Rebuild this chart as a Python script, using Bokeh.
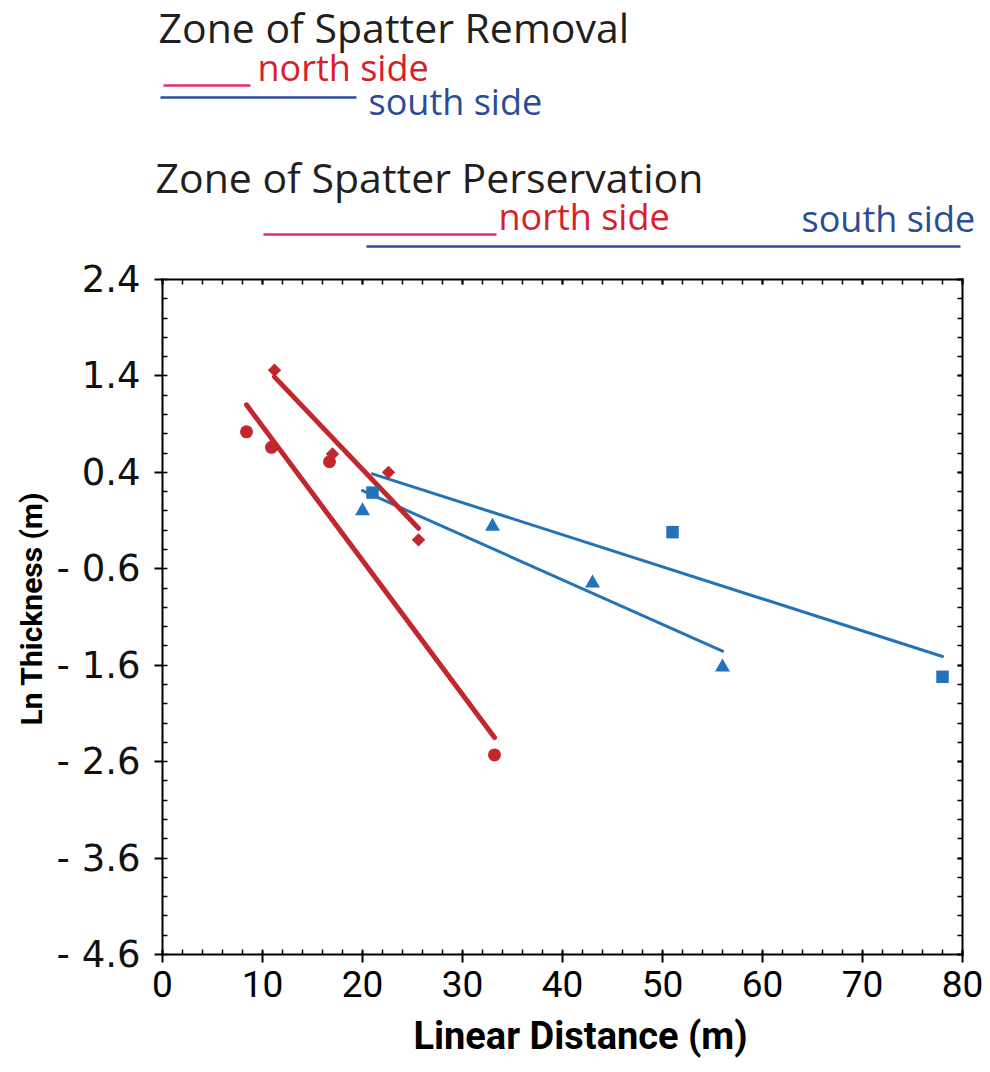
import math
from bokeh.plotting import figure
from bokeh.models import Range1d, LinearAxis, FixedTicker, Label
from bokeh.embed import file_html
from bokeh.resources import INLINE

# ---------------- data ----------------
# north side (red): circles and diamonds
red_circ_x = [8.4, 10.9, 16.7, 33.2]
red_circ_y = [0.82, 0.66, 0.51, -2.53]
red_diam_x = [11.2, 17.0, 22.6, 25.6]
red_diam_y = [1.46, 0.59, 0.40, -0.30]
# south side (blue): squares and triangles
blue_sq_x = [21.0, 51.0, 78.0]
blue_sq_y = [0.19, -0.22, -1.72]
blue_tri_x = [20.0, 33.0, 43.0, 56.0]
blue_tri_y = [0.0, -0.16, -0.75, -1.62]

# fitted trend lines (end points)
red_circ_fit_x = [8.4, 33.2]
red_circ_fit_y = [1.10, -2.35]
red_diam_fit_x = [11.2, 25.6]
red_diam_fit_y = [1.39, -0.18]
blue_sq_fit_x = [21.0, 78.0]
blue_sq_fit_y = [0.385, -1.51]
blue_tri_fit_x = [20.0, 56.0]
blue_tri_fit_y = [0.21, -1.455]

# zone extents along linear distance (m)
removal_north = [0.1, 8.8]
removal_south = [-0.2, 19.4]
preservation_north = [10.1, 33.4]
preservation_south = [20.4, 79.8]
zone_titles = ["Zone of Spatter Removal", "Zone of Spatter Perservation"]
side_labels = ["north side", "south side"]
x_title = "Linear Distance (m)"
y_title = "Ln Thickness (m)"

# axes
x_min, x_max = 0, 80
y_min, y_max = -4.6, 2.4
x_major = [0, 10, 20, 30, 40, 50, 60, 70, 80]
x_minor = list(range(0, 81, 2))
y_major = [2.4, 1.4, 0.4, -0.6, -1.6, -2.6, -3.6, -4.6]
y_major_labels = ["2.4", "1.4", "0.4", "- 0.6", "- 1.6", "- 2.6", "- 3.6", "- 4.6"]
y_minor = [round(2.4 - 0.2 * i, 1) for i in range(36)]

# ---------------- layout / styles ----------------
RED = "#C1272D"
BLUE = "#2473B8"
HEAD_RED = "#D7202A"
HEAD_RED_LINE = "#E5305F"
HEAD_BLUE = "#2C4C98"
TITLE_COLOR = "#231F20"

W, H = 990, 1072
F_LEFT, F_RIGHT, F_TOP, F_BOTTOM = 162, 962, 279, 954   # plot box in page pixels
sx = (F_RIGHT - F_LEFT) / (x_max - x_min)
sy = (F_BOTTOM - F_TOP) / (y_max - y_min)
BASE_FIX = -14  # empirical baseline correction for alphabetic text

p = figure(width=W, height=H,
           x_range=Range1d(x_min - F_LEFT / sx, x_max + (W - F_RIGHT) / sx),
           y_range=Range1d(y_min - (H - F_BOTTOM) / sy, y_max + F_TOP / sy),
           output_backend="svg", toolbar_location=None,
           min_border=0, min_border_left=0, min_border_right=0,
           min_border_top=0, min_border_bottom=0,
           x_axis_location=None, y_axis_location=None,
           outline_line_color=None)
p.grid.visible = False
p.extra_x_ranges = {"px": Range1d(0, W)}
p.extra_y_ranges = {"px": Range1d(H, 0)}


def make_axis(ticker, loc, bounds, tin, tout, mtin, labels=None):
    ax = LinearAxis(ticker=ticker, fixed_location=loc, bounds=bounds,
                    axis_line_width=2, axis_line_cap="square",
                    major_tick_line_width=2, minor_tick_line_width=1.5,
                    major_tick_in=tin, major_tick_out=tout,
                    minor_tick_in=mtin, minor_tick_out=0)
    if labels is None:
        ax.major_label_overrides = {t: "" for t in ticker.ticks}
        ax.major_label_standoff = 0
    return ax


xt = FixedTicker(ticks=x_major, minor_ticks=x_minor)
yt = FixedTicker(ticks=y_major, minor_ticks=y_minor)

bottom = make_axis(xt, y_min, (x_min, x_max), 4, 8, 5, labels=True)
bottom.major_label_text_font = "Roboto"
bottom.major_label_text_font_size = "37px"
bottom.major_label_text_color = "black"
bottom.major_label_standoff = 8
p.add_layout(bottom, "below")

left = make_axis(yt, x_min, (y_min, y_max), 0, 8, 5, labels=True)
left.major_label_overrides = dict(zip(y_major, y_major_labels))
left.major_label_text_font = "DejaVu Sans"
left.major_label_text_font_size = "37px"
left.major_label_text_color = "#111111"
left.major_label_standoff = 14
p.add_layout(left, "left")

p.add_layout(make_axis(FixedTicker(ticks=x_major, minor_ticks=x_minor), y_max,
                       (x_min, x_max), 5, 0, 5), "above")
p.add_layout(make_axis(FixedTicker(ticks=y_major, minor_ticks=y_minor), x_max,
                       (y_min, y_max), 5, 0, 5), "right")

# axis titles
p.add_layout(Label(x=580, y=1035, x_range_name="px", y_range_name="px", text=x_title,
                   text_font="Roboto", text_font_style="bold", text_font_size="38px",
                   text_color="black", text_align="center", text_baseline="middle"))
p.add_layout(Label(x=31, y=608, x_range_name="px", y_range_name="px", text=y_title,
                   angle=math.pi / 2, text_font="Roboto", text_font_style="bold",
                   text_font_size="30px", text_color="black",
                   text_align="center", text_baseline="middle"))

# header: zone titles, side labels and zone extents
def htext(x, y, t, color, size):
    p.add_layout(Label(x=x, y=y + BASE_FIX, x_range_name="px", y_range_name="px", text=t,
                       text_color=color, text_font="Open Sans", text_font_size=size,
                       text_align="left", text_baseline="alphabetic"))

htext(158, 40, zone_titles[0], TITLE_COLOR, "41px")
p.line(removal_north, [85, 85], y_range_name="px", line_color=HEAD_RED_LINE, line_width=2.5)
htext(257, 81, side_labels[0], HEAD_RED, "36px")
p.line(removal_south, [97, 97], y_range_name="px", line_color=HEAD_BLUE, line_width=2.5)
htext(368, 115, side_labels[1], HEAD_BLUE, "36px")

htext(155, 190, zone_titles[1], TITLE_COLOR, "41px")
p.line(preservation_north, [234, 234], y_range_name="px", line_color=HEAD_RED_LINE, line_width=2.5)
htext(498, 230, side_labels[0], HEAD_RED, "36px")
p.line(preservation_south, [246, 246], y_range_name="px", line_color=HEAD_BLUE, line_width=2.5)
htext(801, 232, side_labels[1], HEAD_BLUE, "36px")

# trend lines
p.line(blue_sq_fit_x, blue_sq_fit_y, line_color=BLUE, line_width=3, line_cap="round")
p.line(blue_tri_fit_x, blue_tri_fit_y, line_color=BLUE, line_width=3, line_cap="round")
p.line(red_circ_fit_x, red_circ_fit_y, line_color=RED, line_width=5, line_cap="round")
p.line(red_diam_fit_x, red_diam_fit_y, line_color=RED, line_width=5, line_cap="round")

# markers
p.scatter(red_circ_x, red_circ_y, marker="circle", size=13, fill_color=RED, line_color=None)
p.scatter(red_diam_x, red_diam_y, marker="square", angle=math.pi / 4, size=9.5,
          fill_color=RED, line_color=None)
p.scatter(blue_sq_x, blue_sq_y, marker="square", size=12.5, fill_color=BLUE, line_color=None)
p.scatter(blue_tri_x, blue_tri_y, marker="triangle", size=15, fill_color=BLUE, line_color=None)

open("out.html", "w").write(file_html(p, INLINE))
